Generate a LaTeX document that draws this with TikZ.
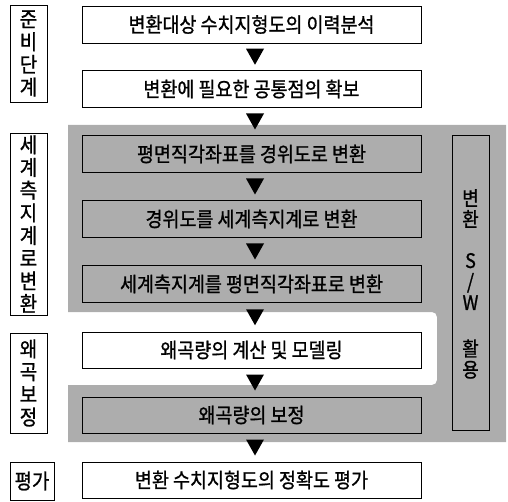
\documentclass[tikz,border=0pt]{standalone}
\usepackage{fontspec}
\setmainfont{Noto Sans CJK KR}[FakeStretch=0.9, FakeBold=1]
\usetikzlibrary{calc}
\definecolor{mygray}{gray}{0.68}
\begin{document}
\begin{tikzpicture}[x=1pt,y=-1pt,
  box/.style={draw=black, line width=0.9pt, fill=white, minimum width=339pt, minimum height=37pt, inner sep=0pt, font=\fontsize{20.5}{22}\selectfont},
  gbox/.style={box, fill=mygray},
  lab/.style={draw=black, line width=0.9pt, fill=white, minimum width=37pt, inner sep=0pt, align=center, font=\fontsize{21}{22.7}\selectfont},
  swtext/.style={inner sep=0pt, align=center, font=\fontsize{20}{21}\selectfont},
  tri/.style={fill=black}]
\useasboundingbox (0,0) rectangle (508,502);
% shaded background region
\fill[mygray] (68,125) -- (506,125) -- (506,442) -- (68,442) -- (68,385)
  [rounded corners=5pt] -- (437,385) -- (437,312) [sharp corners] -- (68,312) -- cycle;
% main flow boxes
\node[box] (b1) at (251.5,24.5) {변환대상 수치지형도의 이력분석};
\node[box] (b2) at (251.5,89) {변환에 필요한 공통점의 확보};
\node[gbox] (b3) at (251.5,154) {평면직각좌표를 경위도로 변환};
\node[gbox] (b4) at (251.5,219) {경위도를 세계측지계로 변환};
\node[gbox] (b5) at (251.5,284) {세계측지계를 평면직각좌표로 변환};
\node[box,minimum height=36pt] (b6) at (251.5,350) {왜곡량의 계산 및 모델링};
\node[gbox,minimum height=36pt] (b7) at (251.5,415) {왜곡량의 보정};
\node[box,minimum height=36pt] (b8) at (251.5,480) {변환 수치지형도의 정확도 평가};
% arrows (black triangles)
\foreach \a/\b in {b1/b2,b2/b3,b3/b4,b4/b5,b5/b6,b6/b7,b7/b8}
  \fill[tri] ($(\a.south)!0.5!(\b.north)+(-5.5,-8)$) -- ++(18,0) -- ++(-9,16) -- cycle;
% stage labels
\node[lab, minimum height=97pt] (l1) at (28.5,53.5) {준\\비\\단\\계};
\node[lab, minimum height=182pt] (l2) at (28.5,224) {세\\계\\측\\지\\계\\로\\변\\환};
\node[lab, minimum height=100pt] (l3) at (28.5,383) {왜\\곡\\보\\정};
\node[lab, minimum width=44pt, minimum height=38pt] (l4) at (32,481) {평가};
% software box
\node[draw=black, line width=0.9pt, fill=mygray, minimum width=37pt, minimum height=295pt, inner sep=0pt] (sw) at (470.5,282.5) {};
\node[swtext] (sw1) at (470.5,208.5) {변\\환};
\node[swtext] (sw2) at (470.5,281.5) {S\\/\\W};
\node[swtext] (sw3) at (470.5,359) {활\\용};
\end{tikzpicture}
\end{document}
